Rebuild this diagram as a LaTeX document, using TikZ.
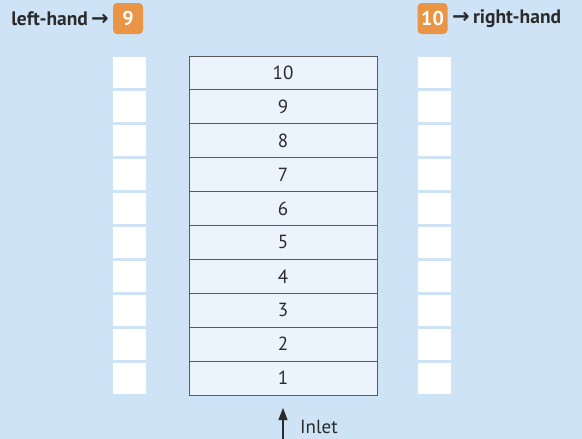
\documentclass[tikz,border=0pt]{standalone}
\usepackage{fontspec}
\setmainfont{PT Sans}
\newfontfamily\arrowfont{DejaVu Sans}
\usetikzlibrary{arrows.meta}
\definecolor{bgblue}{HTML}{CFE3F6}
\definecolor{cellfill}{HTML}{EBF3FC}
\definecolor{cellline}{HTML}{5A5A5A}
\definecolor{badge}{HTML}{EA9545}
\definecolor{txt}{HTML}{2A2A2A}
\tikzset{
  cellbox/.style={draw=cellline, line width=0.9pt, fill=cellfill, minimum width=188pt, minimum height=33.9pt, inner sep=0pt, font=\fontsize{19}{19}\selectfont, text=txt},
  sidebox/.style={fill=white, minimum width=33pt, minimum height=31pt, inner sep=0pt},
  badgebox/.style={fill=badge, rounded corners=4pt, minimum width=30pt, minimum height=31pt, inner sep=0pt, text=white, font=\bfseries\fontsize{20}{20}\selectfont},
  lbl/.style={font=\bfseries\fontsize{19.5}{19.5}\selectfont, text=txt, inner sep=0pt}
}
\begin{document}
\begin{tikzpicture}[x=1pt,y=-1pt]
\fill[bgblue] (0,0) rectangle (582,439);
\useasboundingbox (0,0) rectangle (582,439);
\foreach \i in {1,...,10}{
  \pgfmathsetmacro{\yc}{395-(\i-0.5)*33.9}
  \node[cellbox] (c\i) at (283,\yc) {\i};
  \node[sidebox] (l\i) at (129.5,\yc) {};
  \node[sidebox] (r\i) at (434.5,\yc) {};
}
\node[badgebox] (b9) at (128,18.5) {9};
\node[badgebox] (b10) at (432.5,18.5) {10};
\node[lbl, anchor=east] (lh) at (109,19) {left-hand\,{\arrowfont\bfseries\fontsize{21}{21}\selectfont →}};
\node[lbl, anchor=west] (rh) at (452,19) {{\arrowfont\bfseries\fontsize{21}{21}\selectfont →}\,right-hand};
\node[font=\fontsize{19}{19}\selectfont, text=txt, anchor=base west, inner sep=0pt] (inlet) at (300,433) {Inlet};
\coordinate (a0) at (283,439);
\draw[line width=1.1pt, txt, -{Triangle[length=12pt,width=9pt]}] (a0) -- (283,408);
\end{tikzpicture}
\end{document}
